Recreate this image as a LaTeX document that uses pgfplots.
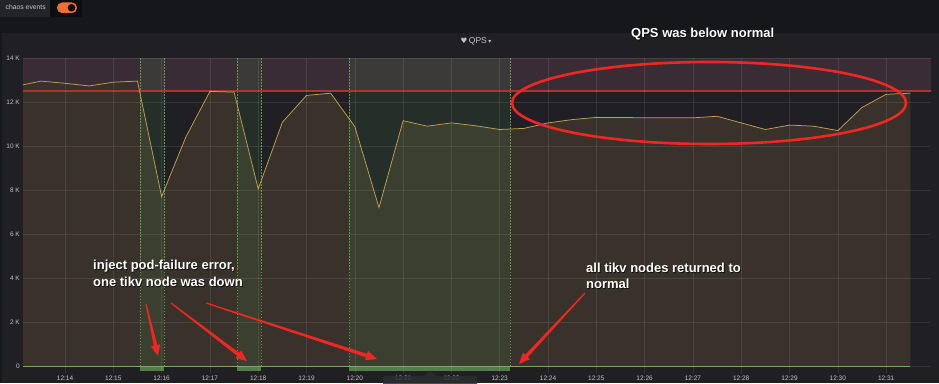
\documentclass[border=0pt]{standalone}
\usepackage{pgfplots}
\pgfplotsset{compat=1.18}
\usepackage{fontspec}
\setmainfont{Liberation Sans}
\newfontfamily\dejavu{DejaVu Sans}
\usetikzlibrary{arrows.meta,calc}
\definecolor{outerbg}{RGB}{22,23,26}
\definecolor{panelbg}{RGB}{32,32,36}
\definecolor{pinkfill}{RGB}{58,44,52}
\definecolor{datafill}{RGB}{57,50,43}
\definecolor{chaosgreen}{RGB}{86,201,102}
\definecolor{qpsline}{RGB}{196,158,74}
\definecolor{thresh}{RGB}{168,56,46}
\definecolor{dashgreen}{RGB}{100,150,80}
\definecolor{bargreen}{RGB}{82,125,72}
\definecolor{zerogreen}{RGB}{110,160,90}
\definecolor{ticktext}{RGB}{195,196,200}
\definecolor{annred}{RGB}{240,38,34}
\definecolor{lblbox}{RGB}{34,36,40}
\definecolor{togglebox}{RGB}{12,13,15}
\definecolor{toggleorange}{RGB}{242,108,52}
\definecolor{tipbox}{RGB}{46,46,50}
\newcommand\taparrow[4]{%
  \coordinate (A) at (#1,#2); \coordinate (B) at (#3,#4);
  \coordinate (H) at ($(B)!11pt!(A)$);
  \fill[annred] ($(A)!0.6pt!90:(B)$) -- ($(H)!1.8pt!90:(B)$) -- ($(H)!4.8pt!90:(B)$) -- (B)
     -- ($(H)!4.8pt!-90:(B)$) -- ($(H)!1.8pt!-90:(B)$) -- ($(A)!0.6pt!-90:(B)$) -- cycle;}
\newcommand\anntext[3]{%
  \node[anchor=west, inner sep=0pt, font=\fontsize{13}{15}\bfseries, text=black, opacity=0.7] at (#1+0.8,#2+0.8) {#3};
  \node[anchor=west, inner sep=0pt, font=\fontsize{13}{15}\bfseries, text=white] at (#1,#2) {#3};}
\begin{document}
\begin{tikzpicture}
\useasboundingbox (0pt,0pt) rectangle (939pt,383pt);
\begin{scope}[x=1pt,y=-1pt,yshift=383pt]
\fill[outerbg] (0,0) rectangle (939,383);
\fill[panelbg] (2,33) rectangle (939,383);
% chaos events toggle
\fill[lblbox] (0,0) rectangle (50,17);
\fill[togglebox] (50,0) rectangle (82,17);
\fill[toggleorange, rounded corners=5pt] (57,2.5) rectangle (77,13);
\fill[togglebox] (71.5,7.75) circle (3.8);
\node[anchor=west, inner sep=0pt, font=\fontsize{6.8}{8}\selectfont, text=ticktext] at (5.5,7.5) {chaos events};
% title
\node[inner sep=0pt, font=\fontsize{8.5}{9}\selectfont, text=ticktext] at (476,41) {{\dejavu\fontsize{7.5}{8}\selectfont ♥}\,QPS\,{\dejavu\fontsize{6}{7}\selectfont ▾}};
\end{scope}
\begin{axis}[at={(23pt,10.4pt)}, anchor=south west, x=48.3pt, y=22pt,
  scale only axis, xmin=13.13, xmax=31.93, ymin=-0.3, ymax=14,
  axis on top, axis line style={draw=none}, major tick length=0pt,
  grid=major, grid style={white, opacity=0.09, line width=0.6pt},
  xtick={14,15,...,31},
  xticklabels={12:14,12:15,12:16,12:17,12:18,12:19,12:20,12:21,12:22,12:23,12:24,12:25,12:26,12:27,12:28,12:29,12:30,12:31},
  ytick={0,2,4,6,8,10,12,14},
  yticklabels={0,2 K,4 K,6 K,8 K,10 K,12 K,14 K},
  tick label style={font=\fontsize{6.5}{7}\selectfont, text=ticktext},
  yticklabel style={inner sep=0pt, xshift=-3pt},
  xticklabel style={inner sep=0pt, yshift=-3pt},
  clip=true]
% threshold region
\addplot[draw=none, fill=pinkfill] coordinates {(13,12.5) (32,12.5) (32,14) (13,14)} -- cycle;
% data fill
\addplot[draw=none, fill=datafill] coordinates {
(13.0,0) (13.0,12.72) (13.5,12.95) (14.0,12.85) (14.5,12.73) (15.0,12.9) (15.5,12.95)
(16.0,7.7) (16.5,10.4) (17.0,12.48) (17.5,12.45) (18.0,8.05) (18.5,11.08) (19.0,12.3)
(19.5,12.4) (20.0,10.88) (20.5,7.2) (21.0,11.15) (21.5,10.9) (22.0,11.05) (22.5,10.92)
(23.0,10.75) (23.5,10.8) (24.0,11.05) (24.5,11.2) (25.0,11.3) (25.5,11.3) (26.0,11.28)
(26.5,11.28) (27.0,11.28) (27.5,11.35) (28.0,11.05) (28.5,10.75) (29.0,10.95) (29.5,10.9)
(30.0,10.7) (30.5,11.75) (31.0,12.35) (31.5,12.4) (31.5,0)} -- cycle;
% chaos regions
\addplot[draw=none, fill=chaosgreen, fill opacity=0.09] coordinates {(15.55,0) (16.05,0) (16.05,14) (15.55,14)} -- cycle;
\addplot[draw=none, fill=chaosgreen, fill opacity=0.09] coordinates {(17.56,0) (18.06,0) (18.06,14) (17.56,14)} -- cycle;
\addplot[draw=none, fill=chaosgreen, fill opacity=0.09] coordinates {(19.88,0) (23.21,0) (23.21,14) (19.88,14)} -- cycle;
\addplot[dashgreen, line width=0.6pt, dash pattern=on 1.5pt off 1.5pt] coordinates {(15.55,0) (15.55,14)};
\addplot[dashgreen, line width=0.6pt, dash pattern=on 1.5pt off 1.5pt] coordinates {(16.05,0) (16.05,14)};
\addplot[dashgreen, line width=0.6pt, dash pattern=on 1.5pt off 1.5pt] coordinates {(17.56,0) (17.56,14)};
\addplot[dashgreen, line width=0.6pt, dash pattern=on 1.5pt off 1.5pt] coordinates {(18.06,0) (18.06,14)};
\addplot[dashgreen, line width=0.6pt, dash pattern=on 1.5pt off 1.5pt] coordinates {(19.88,0) (19.88,14)};
\addplot[dashgreen, line width=0.6pt, dash pattern=on 1.5pt off 1.5pt] coordinates {(23.21,0) (23.21,14)};
\addplot[draw=none, fill=bargreen] coordinates {(15.55,-0.04) (16.05,-0.04) (16.05,-0.24) (15.55,-0.24)} -- cycle;
\addplot[draw=none, fill=bargreen] coordinates {(17.56,-0.04) (18.06,-0.04) (18.06,-0.24) (17.56,-0.24)} -- cycle;
\addplot[draw=none, fill=bargreen] coordinates {(19.88,-0.04) (23.21,-0.04) (23.21,-0.24) (19.88,-0.24)} -- cycle;
% threshold line
\addplot[thresh, line width=1.1pt] coordinates {(13,12.5) (32,12.5)};
% zero series
\addplot[zerogreen, line width=0.9pt] coordinates {(13,0) (31.5,0)};
% QPS line
\addplot[qpsline, line width=0.75pt] coordinates {
(13.0,12.72) (13.5,12.95) (14.0,12.85) (14.5,12.73) (15.0,12.9) (15.5,12.95)
(16.0,7.7) (16.5,10.4) (17.0,12.48) (17.5,12.45) (18.0,8.05) (18.5,11.08) (19.0,12.3)
(19.5,12.4) (20.0,10.88) (20.5,7.2) (21.0,11.15) (21.5,10.9) (22.0,11.05) (22.5,10.92)
(23.0,10.75) (23.5,10.8) (24.0,11.05) (24.5,11.2) (25.0,11.3) (25.5,11.3) (26.0,11.28)
(26.5,11.28) (27.0,11.28) (27.5,11.35) (28.0,11.05) (28.5,10.75) (29.0,10.95) (29.5,10.9)
(30.0,10.7) (30.5,11.75) (31.0,12.35) (31.5,12.4)};
\end{axis}
\begin{scope}[x=1pt,y=-1pt,yshift=383pt]
% tooltip stub
\fill[tipbox, fill opacity=0.85, rounded corners=2pt] (383,376) rectangle (477,390);
\fill[tipbox, fill opacity=0.85] (424,376) -- (430,370.5) -- (436,376) -- cycle;
% annotations
\draw[annred, line width=2.6pt] (709,103) ellipse [x radius=197, y radius=41];
\taparrow{146}{304}{158}{356}
\taparrow{171}{303}{247}{361}
\taparrow{206}{303}{377}{359}
\taparrow{585}{293}{519}{364}
\anntext{631}{34}{QPS was below normal}
\anntext{93}{266}{inject pod-failure error,}
\anntext{93}{282}{one tikv node was down}
\anntext{586}{268}{all tikv nodes returned to}
\anntext{586}{284}{normal}
\end{scope}
\end{tikzpicture}
\end{document}
